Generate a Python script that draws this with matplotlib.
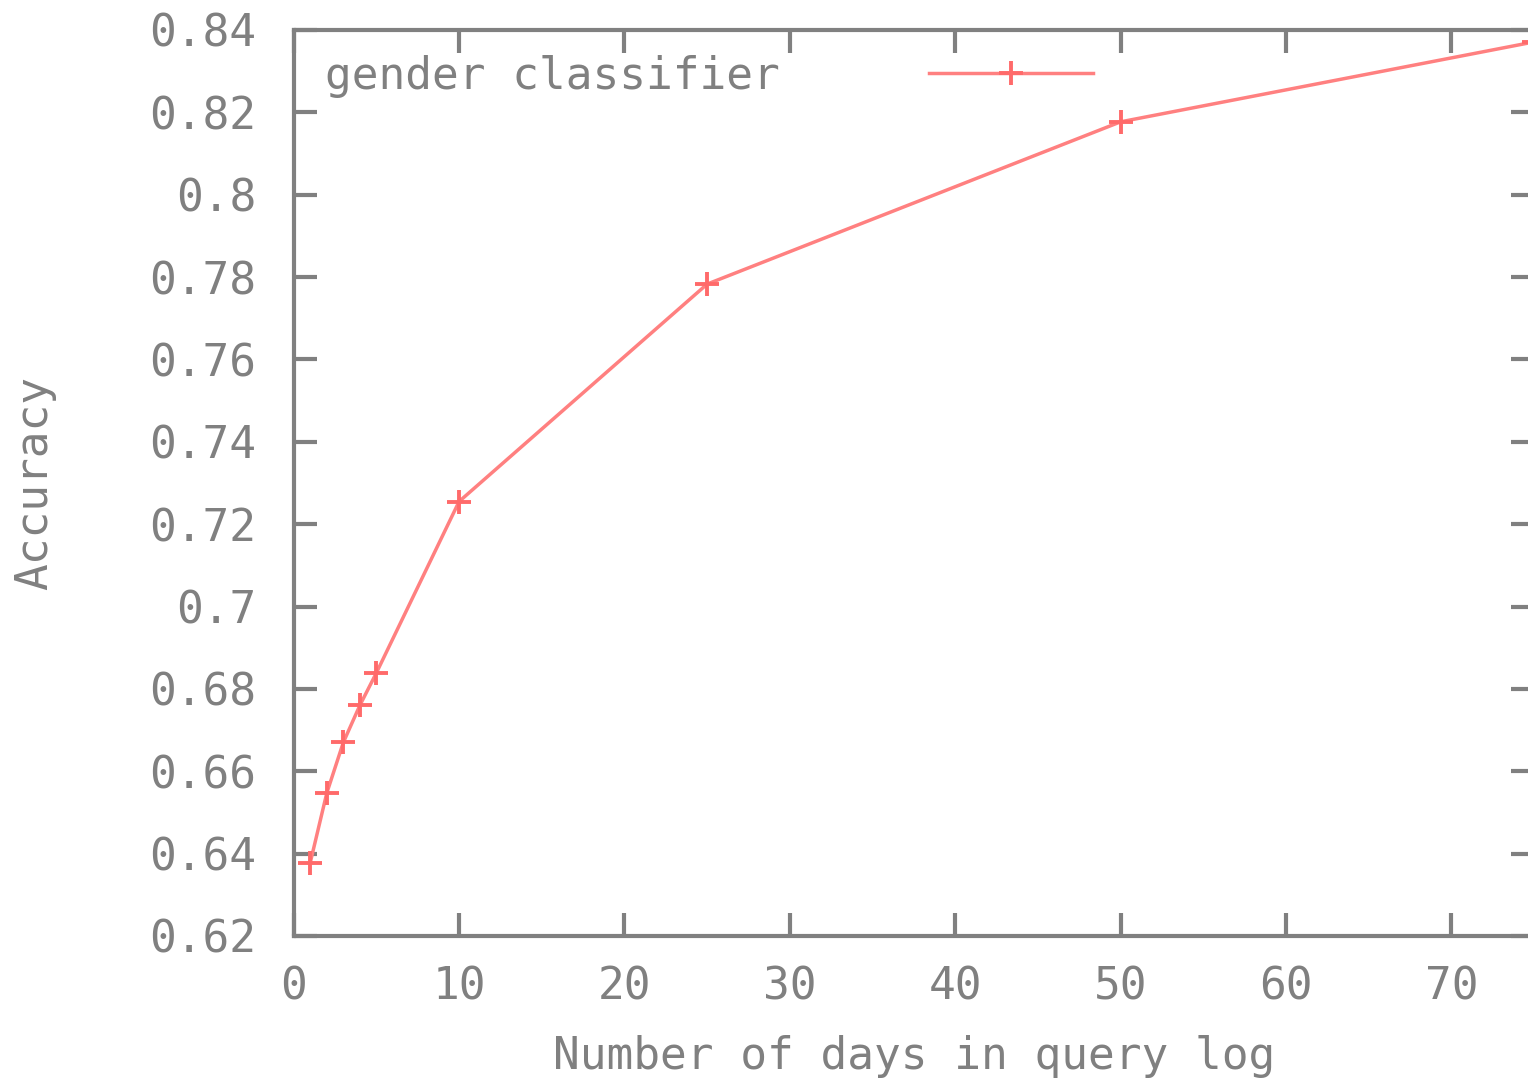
import matplotlib
matplotlib.use("Agg")
import matplotlib.pyplot as plt

# Accuracy of the gender classifier vs. number of days of query log used
days = [1, 2, 3, 4, 5, 10, 25, 50, 75]
accuracy = [0.6378, 0.6547, 0.6670, 0.6760, 0.6839, 0.7255, 0.7783, 0.8177, 0.8371]

x_ticks = [0, 10, 20, 30, 40, 50, 60, 70]
y_ticks = [0.62, 0.64, 0.66, 0.68, 0.70, 0.72, 0.74, 0.76, 0.78, 0.80, 0.82, 0.84]
y_tick_labels = ["0.62", "0.64", "0.66", "0.68", "0.7", "0.72", "0.74",
                 "0.76", "0.78", "0.8", "0.82", "0.84"]

GRAY = "#808080"
LINE = "#ff8080"
FONT = "DejaVu Sans Mono"
FS = 32

plt.rcParams["font.family"] = [FONT, "DejaVu Sans"]

W, H = 1528, 1081
fig = plt.figure(figsize=(W / 100, H / 100), dpi=100)
left_px, right_px, top_px, bottom_px = 293.7, 1534.0, 30.0, 936.0
ax = fig.add_axes([left_px / W, (H - bottom_px) / H,
                   (right_px - left_px) / W, (bottom_px - top_px) / H])

ax.plot(days, accuracy, color=LINE, linewidth=2.5, marker="+",
        markersize=17, markeredgewidth=2.8, markeredgecolor="#ff6a6a",
        label="gender classifier")

ax.set_xlim(0, 75)
ax.set_ylim(0.62, 0.84)
ax.set_xticks(x_ticks)
ax.set_xticklabels([str(v) for v in x_ticks])
ax.set_yticks(y_ticks)
ax.set_yticklabels(y_tick_labels)

for sp in ax.spines.values():
    sp.set_color(GRAY)
    sp.set_linewidth(3.0)

ax.tick_params(axis="both", which="major", direction="in", length=16.5,
               width=3.0, color=GRAY, labelcolor=GRAY, labelsize=FS,
               top=True, right=True)
ax.tick_params(axis="y", pad=27)
ax.tick_params(axis="x", pad=21)

ax.set_xlabel("Number of days in query log", fontsize=FS, color=GRAY,
              va="center")
ax.xaxis.set_label_coords(0.5, (bottom_px - 1056) / (bottom_px - top_px))
ax.set_ylabel("Accuracy", fontsize=FS, color=GRAY, va="center")
ax.yaxis.set_label_coords((35 - left_px) / (right_px - left_px), 0.5)

leg = ax.legend(loc="center left",
                bbox_to_anchor=((325 - left_px) / (right_px - left_px),
                                (bottom_px - 76) / (bottom_px - top_px)),
                frameon=False, markerfirst=False, fontsize=FS,
                borderpad=0, borderaxespad=0, handlelength=3.7,
                handletextpad=3.35)
for t in leg.get_texts():
    t.set_color(GRAY)

fig.savefig("out.png", dpi=100)
